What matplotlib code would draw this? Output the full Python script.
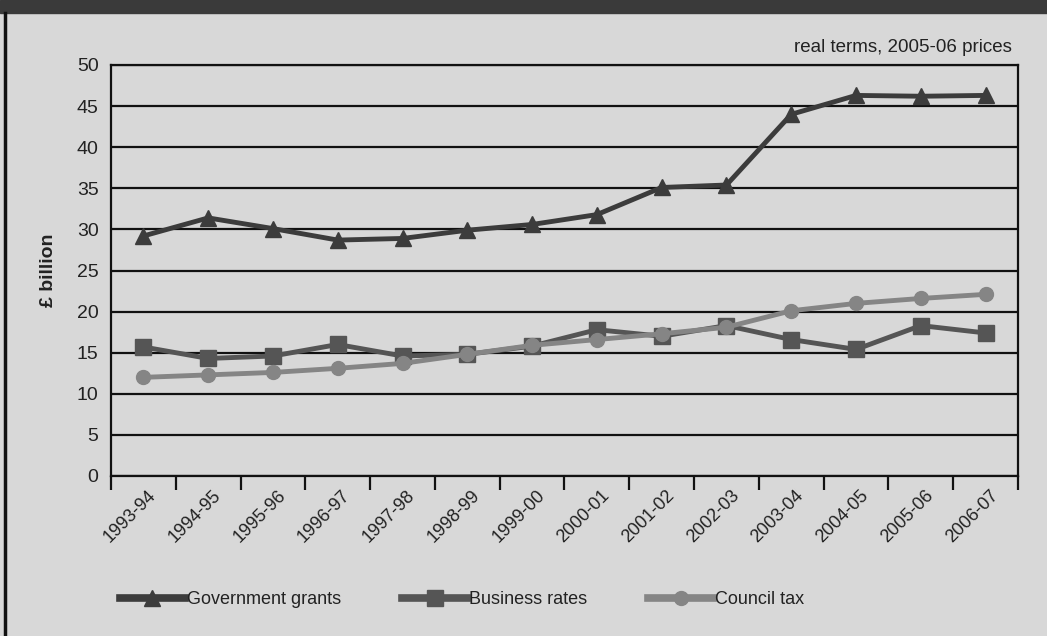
import numpy as np
import matplotlib
matplotlib.use("Agg")
import matplotlib.pyplot as plt
import matplotlib.transforms as mtransforms
from matplotlib.patches import Rectangle
from matplotlib.lines import Line2D

plt.rcParams['font.family'] = ['Liberation Sans', 'DejaVu Sans']

# Funding sources, £ billion, real terms at 2005-06 prices
years = ['1993-94', '1994-95', '1995-96', '1996-97', '1997-98', '1998-99', '1999-00',
         '2000-01', '2001-02', '2002-03', '2003-04', '2004-05', '2005-06', '2006-07']
government_grants = [29.2, 31.4, 30.1, 28.7, 28.9, 29.9, 30.6, 31.8, 35.1, 35.4, 44.0, 46.3, 46.2, 46.3]
business_rates = [15.7, 14.3, 14.6, 16.0, 14.6, 14.8, 15.8, 17.8, 17.0, 18.3, 16.6, 15.4, 18.3, 17.4]
council_tax = [12.0, 12.3, 12.6, 13.1, 13.7, 14.8, 15.9, 16.6, 17.3, 18.1, 20.1, 21.0, 21.6, 22.1]

bg = '#d8d8d8'
fig = plt.figure(figsize=(10.47, 6.36), dpi=100, facecolor=bg)
ax = fig.add_axes([111 / 1047, 1 - 476 / 636, (1018 - 111) / 1047, (476 - 65) / 636])
ax.set_facecolor(bg)

# dark header strip and left page edge
fig.patches.append(Rectangle((0, 1 - 13 / 636), 1, 13 / 636, transform=fig.transFigure,
                             color='#3a3a3a', zorder=0))
fig.lines.append(Line2D([5 / 1047, 5 / 1047], [0, 1 - 13 / 636], transform=fig.transFigure,
                        color='#111111', lw=2.5))

x = np.arange(len(years))
ax.plot(x, government_grants, color='#3c3c3c', lw=3.5, marker='^', ms=11,
        label='Government grants', zorder=5)
ax.plot(x, business_rates, color='#555555', lw=3.5, marker='s', ms=12,
        label='Business rates', zorder=4)
ax.plot(x, council_tax, color='#858585', lw=3.5, marker='o', ms=10,
        label='Council tax', zorder=4.5)

ax.set_xlim(-0.5, len(years) - 0.5)
ax.set_ylim(0, 50)
ax.set_yticks(np.arange(0, 51, 5))
ax.yaxis.grid(True, color='#111111', lw=1.6)
ax.set_axisbelow(True)
ax.tick_params(axis='y', length=0, pad=9, labelsize=14, colors='#222222')

# tick marks sit between the years, labels sit on the years
ax.set_xticks(np.arange(-0.5, len(years), 1.0))
ax.set_xticklabels([])
ax.tick_params(axis='x', which='major', direction='out', length=10, width=1.6, color='#111111')
ax.set_xticks(x, minor=True)
ax.set_xticklabels(years, minor=True, rotation=45, ha='right', rotation_mode='anchor',
                   fontsize=13, color='#222222')
ax.tick_params(axis='x', which='minor', length=0, pad=8)
shift = mtransforms.ScaledTranslation(4 / 100, 0, fig.dpi_scale_trans)
for lbl in ax.get_xticklabels(minor=True):
    lbl.set_transform(lbl.get_transform() + shift)

for side in ['left', 'right', 'bottom', 'top']:
    ax.spines[side].set_color('#111111')
    ax.spines[side].set_linewidth(1.6)

ax.set_ylabel('£ billion', fontsize=14, fontweight='bold', labelpad=14, color='#222222')
fig.text(1012 / 1047, 1 - 47 / 636, 'real terms, 2005-06 prices', ha='right', va='center',
         fontsize=13.5, color='#222222')

leg = fig.legend(loc='center', bbox_to_anchor=(462 / 1047, 1 - 600 / 636), ncol=3,
                 frameon=False, fontsize=13, handlelength=3.6, handletextpad=0.1,
                 columnspacing=3.4, labelcolor='#222222')
for h in leg.get_lines():
    h.set_linewidth(5.5)

fig.savefig('out.png', dpi=100, facecolor=bg)
